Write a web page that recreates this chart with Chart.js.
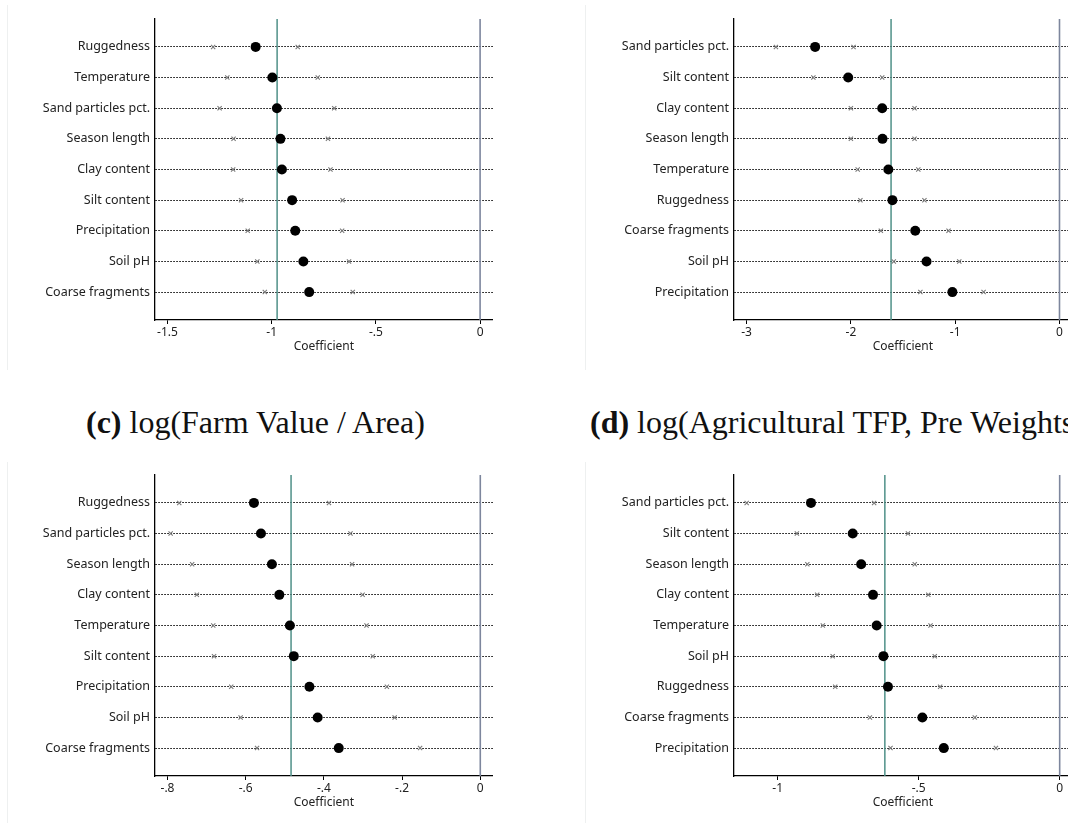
<!DOCTYPE html>
<html>
<head>
<meta charset="utf-8">
<script src="https://cdn.jsdelivr.net/npm/chart.js@4.4.1/dist/chart.umd.min.js"></script>
<style>
  html, body { margin: 0; padding: 0; background: #fff; width: 1068px; height: 823px; overflow: hidden; }
  .edge { position: absolute; width: 1px; background: #eef0f0; }
  .ttl { position: absolute; font-family: "Liberation Serif", serif; font-size: 32px; line-height: 34px; color: #111; white-space: nowrap; }
  canvas { position: absolute; }
</style>
</head>
<body>
<div class="edge" style="left:7px;top:5px;height:365px"></div>
<div class="edge" style="left:585px;top:5px;height:365px"></div>
<div class="edge" style="left:7px;top:462px;height:361px"></div>
<div class="edge" style="left:585px;top:462px;height:361px"></div>

<div class="ttl" id="titleC" style="top:405px;left:86px"><b>(c)</b> log(Farm Value / Area)</div>
<div class="ttl" id="titleD" style="top:405px;left:590px"><b>(d)</b> log(Agricultural TFP, Pre Weights)</div>

<canvas id="chartA" width="512" height="350" style="left:7px;top:5px"></canvas>
<canvas id="chartB" width="512" height="350" style="left:586px;top:5px"></canvas>
<canvas id="chartC" width="512" height="350" style="left:7px;top:461px"></canvas>
<canvas id="chartD" width="512" height="350" style="left:586px;top:461px"></canvas>

<script>
// ---------- Panel (a) ----------
const catsA = ["Ruggedness","Temperature","Sand particles pct.","Season length","Clay content","Silt content","Precipitation","Soil pH","Coarse fragments"];
const coefA = [-1.077,-0.997,-0.975,-0.958,-0.951,-0.902,-0.887,-0.848,-0.820];
const loA   = [-1.281,-1.213,-1.250,-1.183,-1.185,-1.147,-1.115,-1.069,-1.033];
const hiA   = [-0.875,-0.779,-0.700,-0.730,-0.718,-0.660,-0.662,-0.629,-0.611];
const meanA = -0.974;
const ticksA = [-1.5,-1,-0.5,0];
const tickLabelsA = ["-1.5","-1","-.5","0"];

// ---------- Panel (b) ----------
const catsB = ["Sand particles pct.","Silt content","Clay content","Season length","Temperature","Ruggedness","Coarse fragments","Soil pH","Precipitation"];
const coefB = [-2.343,-2.026,-1.700,-1.697,-1.641,-1.602,-1.383,-1.275,-1.027];
const loB   = [-2.719,-2.360,-2.000,-2.000,-1.935,-1.909,-1.713,-1.589,-1.334];
const hiB   = [-1.975,-1.700,-1.390,-1.390,-1.354,-1.295,-1.064,-0.961,-0.728];
const meanB = -1.615;
const ticksB = [-3,-2,-1,0];
const tickLabelsB = ["-3","-2","-1","0"];

// ---------- Panel (c) ----------
const catsC = ["Ruggedness","Sand particles pct.","Season length","Clay content","Temperature","Silt content","Precipitation","Soil pH","Coarse fragments"];
const coefC = [-0.579,-0.561,-0.533,-0.514,-0.487,-0.477,-0.437,-0.416,-0.362];
const loC   = [-0.770,-0.792,-0.737,-0.725,-0.683,-0.681,-0.637,-0.613,-0.571];
const hiC   = [-0.387,-0.332,-0.328,-0.301,-0.291,-0.275,-0.239,-0.219,-0.154];
const meanC = -0.484;
const ticksC = [-0.8,-0.6,-0.4,-0.2,0];
const tickLabelsC = ["-.8","-.6","-.4","-.2","0"];

// ---------- Panel (d) ----------
const catsD = ["Sand particles pct.","Silt content","Season length","Clay content","Temperature","Soil pH","Ruggedness","Coarse fragments","Precipitation"];
const coefD = [-0.882,-0.734,-0.704,-0.662,-0.649,-0.625,-0.609,-0.487,-0.411];
const loD   = [-1.110,-0.932,-0.895,-0.860,-0.840,-0.805,-0.796,-0.673,-0.600];
const hiD   = [-0.658,-0.538,-0.514,-0.466,-0.458,-0.443,-0.424,-0.301,-0.226];
const meanD = -0.620;
const ticksD = [-1,-0.5,0];
const tickLabelsD = ["-1","-.5","0"];

const xTitle = "Coefficient";

const FONT = "'Noto Sans', sans-serif";
const Y_PAD = 0.91;

function makeChart(id, cats, coef, lo, hi, mean, ticks, tickLabels, xmin, xmax) {
  const yMin = -Y_PAD, yMax = cats.length - 1 + Y_PAD;
  const ciPts = [];
  cats.forEach((c, i) => { ciPts.push({x: lo[i], y: i}); ciPts.push({x: hi[i], y: i}); });
  new Chart(document.getElementById(id), {
    type: 'scatter',
    data: {
      datasets: [
        { label: 'coef', data: cats.map((c, i) => ({x: coef[i], y: i})),
          pointStyle: 'circle', pointRadius: 5, backgroundColor: '#000', borderColor: '#000', borderWidth: 0 },
        { label: 'ci', data: ciPts, pointStyle: 'crossRot', pointRadius: 3,
          borderColor: '#7a7a7a', backgroundColor: '#7a7a7a', borderWidth: 1.1 },
        { type: 'line', label: 'mean', data: [{x: mean, y: yMin}, {x: mean, y: yMax}],
          borderColor: '#4f9088', borderWidth: 1.5, pointRadius: 0, showLine: true },
        { type: 'line', label: 'zero', data: [{x: 0, y: yMin}, {x: 0, y: yMax}],
          borderColor: '#7d869d', borderWidth: 1.6, pointRadius: 0, showLine: true }
      ]
    },
    options: {
      responsive: false,
      animation: false,
      layout: { padding: { top: 14, right: 26.2, left: 0, bottom: 1 } },
      plugins: { legend: { display: false }, tooltip: { enabled: false } },
      scales: {
        x: {
          type: 'linear', min: xmin, max: xmax,
          afterBuildTicks: (s) => { s.ticks = ticks.map(v => ({value: v})); },
          afterFit: (s) => { s.height = 34; },
          ticks: { color: '#222', font: { family: FONT, size: 12 }, padding: 1,
                   callback: (v) => { const k = ticks.indexOf(v); return k >= 0 ? tickLabels[k] : ''; } },
          grid: { drawOnChartArea: false, drawTicks: true, tickLength: 4, color: '#000', tickColor: '#000', tickWidth: 1 },
          border: { display: true, color: '#000', width: 1.3 },
          title: { display: true, text: xTitle, color: '#222', font: { family: FONT, size: 12 }, padding: { top: 0, bottom: 0 } }
        },
        y: {
          type: 'linear', reverse: true, min: yMin, max: yMax,
          afterBuildTicks: (s) => { s.ticks = cats.map((c, i) => ({value: i})); },
          afterFit: (s) => { s.width = 148; },
          ticks: { color: '#222', font: { family: FONT, size: 12.5 }, padding: 5,
                   callback: (v) => cats[v] ?? '' },
          grid: { drawOnChartArea: true, drawTicks: false, color: '#000', lineWidth: 1 },
          border: { display: true, color: '#000', width: 1.3, dash: [1.5, 1.5] }
        }
      }
    }
  });
}

makeChart('chartA', catsA, coefA, loA, hiA, meanA, ticksA, tickLabelsA, -1.56, 0.061);
makeChart('chartB', catsB, coefB, loB, hiB, meanB, ticksB, tickLabelsB, -3.121, 0.118);
makeChart('chartC', catsC, coefC, loC, hiC, meanC, ticksC, tickLabelsC, -0.832, 0.032);
makeChart('chartD', catsD, coefD, loD, hiD, meanD, ticksD, tickLabelsD, -1.155, 0.043);
</script>
</body>
</html>
